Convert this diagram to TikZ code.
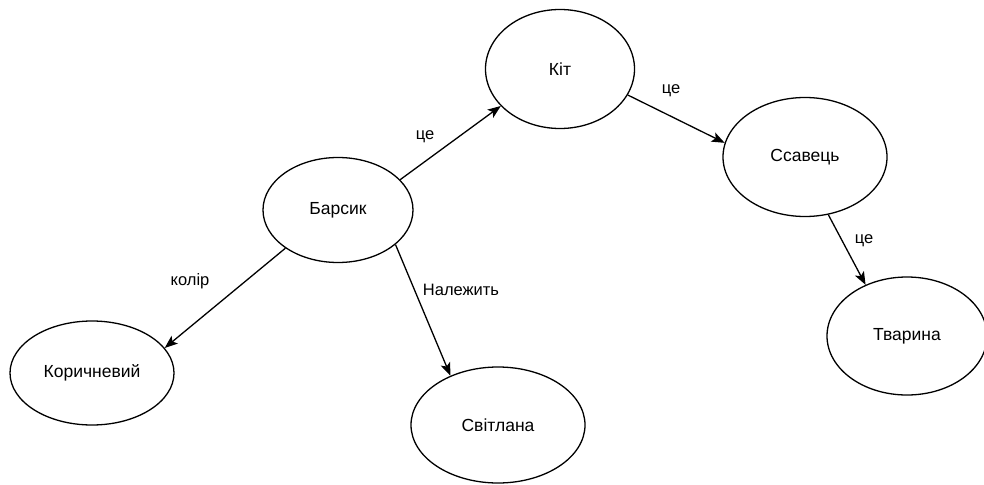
\documentclass[tikz,border=0pt]{standalone}
\usepackage{fontspec}
\setmainfont{Liberation Sans}
\usetikzlibrary{shapes.geometric,arrows.meta}
\begin{document}
\begin{tikzpicture}[x=1pt,y=-1pt,
  ell/.style={ellipse,draw=black,line width=1.3pt,inner sep=0pt,font=\fontsize{17.5}{20}\selectfont},
  conn/.style={line width=1.3pt,draw=black,-{Stealth[length=13pt,width=10pt,inset=3pt]}},
  lbl/.style={inner sep=0pt,font=\fontsize{16.5}{19}\selectfont}]
\useasboundingbox (0,0) rectangle (984,484);
\node[ell,minimum width=150pt,minimum height=105pt] (barsik) at (338,210) {Барсик};
\node[ell,minimum width=149pt,minimum height=119pt] (kit) at (560,69) {Кіт};
\node[ell,minimum width=164pt,minimum height=119pt] (ssavets) at (805,157) {Ссавець};
\node[ell,minimum width=160pt,minimum height=118pt] (tvaryna) at (907,336) {Тварина};
\node[ell,minimum width=164pt,minimum height=104pt] (korych) at (92,373) {Коричневий};
\node[ell,minimum width=174pt,minimum height=116pt] (svitlana) at (498,425) {Світлана};

\draw[conn] (barsik.26.6) -- (kit.212.2);
\draw[conn] (kit.-21.3) -- (ssavets.170.4);
\draw[conn] (ssavets.-68.4) -- (tvaryna.129.8);
\draw[conn] (barsik.216.7) -- (korych.19.8);
\draw[conn] (barsik.-31.6) -- (svitlana.134.3);

\node[lbl] (l1) at (425,137) {це};
\node[lbl] (l2) at (671,91) {це};
\node[lbl] (l3) at (864,241) {це};
\node[lbl] (l4) at (190,281) {колір};
\node[lbl] (l5) at (461,290) {Належить};
\end{tikzpicture}
\end{document}
